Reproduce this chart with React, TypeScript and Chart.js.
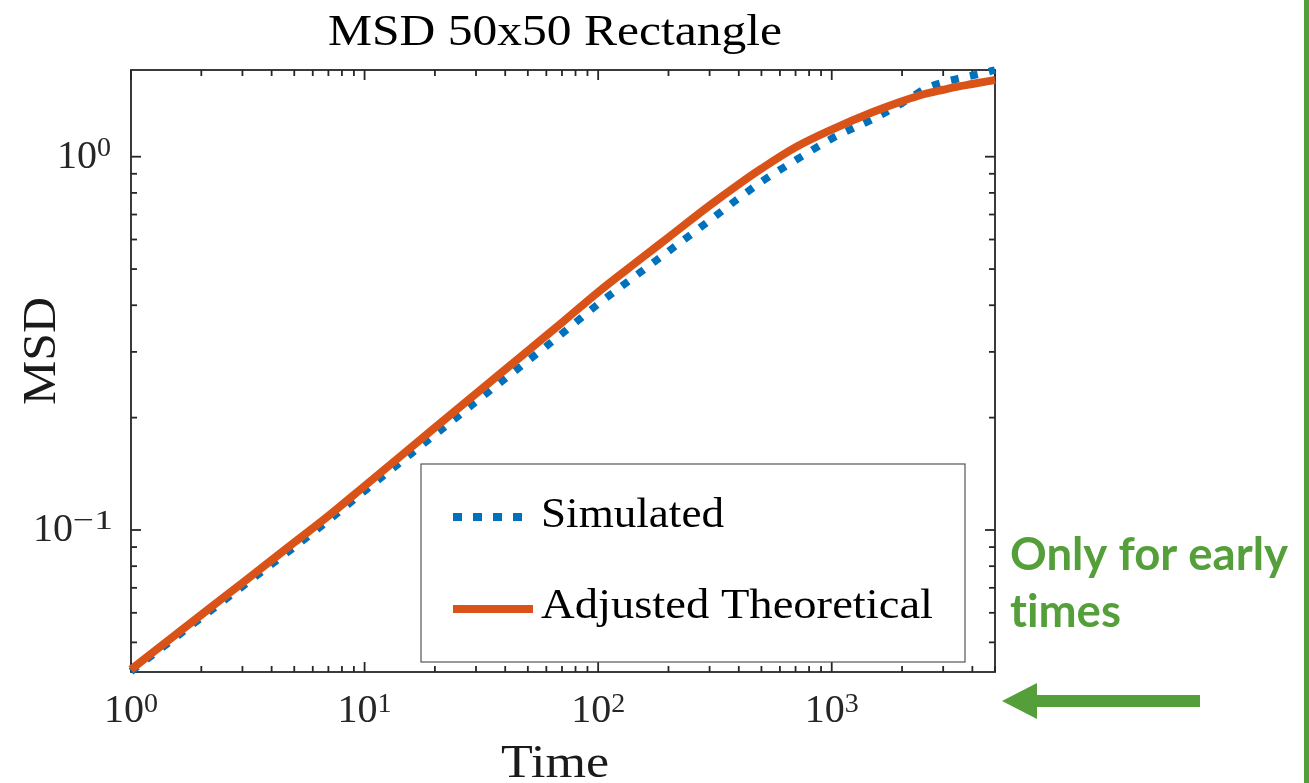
import React, { useEffect, useRef } from "react";
import { Chart, registerables } from "chart.js";

Chart.register(...registerables);

// ---- data ----
const times = [1, 2, 3, 5, 7, 10, 20, 30, 50, 70, 100, 150, 200, 300, 400, 500, 700, 1000, 1500, 2000, 2500, 3000, 3500, 4000, 4500, 5000];
const simulated = [0.0418, 0.0582, 0.0706, 0.09, 0.1061, 0.1272, 0.18, 0.2207, 0.2839, 0.3357, 0.403, 0.488, 0.558, 0.675, 0.774, 0.857, 0.978, 1.118, 1.261, 1.391, 1.518, 1.582, 1.62, 1.65, 1.677, 1.707];
const theoretical = [0.0423, 0.0593, 0.0722, 0.0926, 0.1091, 0.1312, 0.188, 0.2319, 0.302, 0.3595, 0.434, 0.529, 0.608, 0.74, 0.844, 0.929, 1.06, 1.182, 1.317, 1.408, 1.472, 1.511, 1.543, 1.566, 1.587, 1.605];

const seriesNames = ["Simulated", "Adjusted Theoretical"];
const xMajorTicks = [1, 10, 100, 1000];
const xMajorExps = ["0", "1", "2", "3"];
const yMajorTicks = [0.1, 1];
const yMajorExps = ["\u22121", "0"];
const xMin = 1, xMax = 5000, yMin = 0.04165, yMax = 1.707;

const titleText = "MSD 50x50 Rectangle";
const xTitle = "Time";
const yTitle = "MSD";
const noteLines = ["Only for early", "t\u200Cimes"];

const BLUE = "#0072BD";
const ORANGE = "#D95319";
const AXIS = "#262626";
const GREEN = "#559F3A";
const SERIF = '"Liberation Serif", "DejaVu Serif", serif';

function fitText(ctx: CanvasRenderingContext2D, s: string, x: number, y: number, font: string, targetW: number | null, align: string = "left", sxFixed?: number) {
  ctx.save();
  ctx.font = font;
  ctx.textBaseline = "alphabetic";
  ctx.textAlign = "left";
  const m = ctx.measureText(s).width;
  const sx = sxFixed !== undefined ? sxFixed : targetW ? targetW / m : 1;
  const W = m * sx;
  const x0 = align === "center" ? x - W / 2 : align === "right" ? x - W : x;
  ctx.translate(x0, y);
  ctx.scale(sx, 1);
  ctx.fillText(s, 0, 0);
  ctx.restore();
  return sx;
}

function measure(ctx: CanvasRenderingContext2D, s: string, font: string) {
  ctx.save();
  ctx.font = font;
  const w = ctx.measureText(s).width;
  ctx.restore();
  return w;
}

const MAIN_FONT = `40px ${SERIF}`;
const SUP_FONT = `28px ${SERIF}`;

function minorValues(min: number, max: number) {
  const out: number[] = [];
  for (let e = Math.floor(Math.log10(min)); e <= Math.ceil(Math.log10(max)); e++) {
    for (let m = 2; m <= 9; m++) {
      const v = m * Math.pow(10, e);
      if (v >= min * 0.9999 && v <= max * 1.0001) out.push(v);
    }
  }
  return out;
}

const axesPlugin = {
  id: "matlabAxes",
  beforeDatasetsDraw(chart: any) {
    const { ctx, chartArea: a, scales } = chart;
    const xs = scales.x, ys = scales.y;
    ctx.save();
    ctx.strokeStyle = AXIS;
    ctx.lineWidth = 1.8;
    ctx.strokeRect(a.left, a.top, a.right - a.left, a.bottom - a.top);
    const tick = (x1: number, y1: number, x2: number, y2: number) => {
      ctx.beginPath();
      ctx.moveTo(x1, y1);
      ctx.lineTo(x2, y2);
      ctx.stroke();
    };
    const MAJ = 10, MIN = 6;
    xMajorTicks.forEach((v) => {
      const p = xs.getPixelForValue(v);
      tick(p, a.bottom, p, a.bottom - MAJ);
      tick(p, a.top, p, a.top + MAJ);
    });
    minorValues(xMin, xMax).forEach((v) => {
      const p = xs.getPixelForValue(v);
      tick(p, a.bottom, p, a.bottom - MIN);
      tick(p, a.top, p, a.top + MIN);
    });
    yMajorTicks.forEach((v) => {
      const p = ys.getPixelForValue(v);
      tick(a.left, p, a.left + MAJ, p);
      tick(a.right, p, a.right - MAJ, p);
    });
    minorValues(yMin, yMax).forEach((v) => {
      const p = ys.getPixelForValue(v);
      tick(a.left, p, a.left + MIN, p);
      tick(a.right, p, a.right - MIN, p);
    });
    ctx.restore();
  },
  afterDatasetsDraw(chart: any) {
    const { ctx, chartArea: a, scales } = chart;
    const xs = scales.x, ys = scales.y;
    ctx.save();
    ctx.fillStyle = AXIS;
    // x tick labels
    xMajorTicks.forEach((v, i) => {
      const p = xs.getPixelForValue(v);
      const w1 = measure(ctx, "10", MAIN_FONT);
      const w2 = measure(ctx, xMajorExps[i], SUP_FONT);
      const x0 = p - (w1 + w2) / 2;
      const base = a.bottom + 50;
      fitText(ctx, "10", x0, base, MAIN_FONT, null);
      fitText(ctx, xMajorExps[i], x0 + w1, base - 10, SUP_FONT, null);
    });
    // y tick labels
    yMajorTicks.forEach((v, i) => {
      const p = ys.getPixelForValue(v);
      const right = a.left - 18;
      const exp = yMajorExps[i];
      const w1 = measure(ctx, "10", MAIN_FONT);
      const w2 = exp.length > 1 ? 40 : measure(ctx, exp, SUP_FONT) + 2;
      const base = p + 11;
      fitText(ctx, "10", right - w2 - w1, base, MAIN_FONT, null);
      fitText(ctx, exp, right - w2, base - 12, SUP_FONT, exp.length > 1 ? w2 : null);
    });
    // axis titles
    ctx.fillStyle = "#1a1a1a";
    fitText(ctx, xTitle, 555, 777, `46px ${SERIF}`, 108, "center");
    ctx.save();
    ctx.translate(55, 351);
    ctx.rotate(-Math.PI / 2);
    fitText(ctx, yTitle, 0, 0, `46px ${SERIF}`, 108, "center");
    ctx.restore();
    // title
    ctx.fillStyle = "#000";
    fitText(ctx, titleText, 555, 45, `44px ${SERIF}`, 454, "center");

    // legend
    const lx = 421, ly = 464, lw = 544, lh = 198;
    ctx.fillStyle = "#fff";
    ctx.fillRect(lx, ly, lw, lh);
    ctx.strokeStyle = "#555";
    ctx.lineWidth = 1.2;
    ctx.strokeRect(lx, ly, lw, lh);
    ctx.lineCap = "butt";
    ctx.strokeStyle = BLUE;
    ctx.lineWidth = 8;
    ctx.setLineDash([9, 11]);
    ctx.beginPath();
    ctx.moveTo(453, 517);
    ctx.lineTo(522, 517);
    ctx.stroke();
    ctx.setLineDash([]);
    ctx.strokeStyle = ORANGE;
    ctx.beginPath();
    ctx.moveTo(453, 609);
    ctx.lineTo(533, 609);
    ctx.stroke();
    ctx.fillStyle = "#000";
    fitText(ctx, seriesNames[0], 541, 527, `42px ${SERIF}`, 183, "left");
    fitText(ctx, seriesNames[1], 541, 618, `42px ${SERIF}`, 392, "left");

    // annotation (green)
    ctx.fillStyle = GREEN;
    const gFont = `bold 46px Lato, "Open Sans", sans-serif`;
    const sx = fitText(ctx, noteLines[0], 1010, 570, gFont, 278, "left");
    fitText(ctx, noteLines[1], 1010, 627, gFont, null, "left", sx);
    // arrow
    ctx.beginPath();
    ctx.moveTo(1200, 695);
    ctx.lineTo(1037, 695);
    ctx.lineTo(1037, 683);
    ctx.lineTo(1002, 701);
    ctx.lineTo(1037, 719);
    ctx.lineTo(1037, 707);
    ctx.lineTo(1200, 707);
    ctx.closePath();
    ctx.fill();
    // vertical bar at right edge
    ctx.fillRect(1304, 0, 5, 783);
    ctx.restore();
  },
};

export default function App() {
  const ref = useRef<HTMLCanvasElement | null>(null);
  useEffect(() => {
    if (!ref.current) return;
    const chart = new Chart(ref.current, {
      type: "line",
      data: {
        datasets: [
          {
            label: seriesNames[0],
            data: times.map((t, i) => ({ x: t, y: simulated[i] })),
            borderColor: BLUE,
            backgroundColor: BLUE,
            borderWidth: 7.5,
            borderDash: [8, 11.5],
            borderCapStyle: "butt",
            pointRadius: 0,
            cubicInterpolationMode: "monotone",
            fill: false,
            order: 2,
            clip: false,
          } as any,
          {
            label: seriesNames[1],
            data: times.map((t, i) => ({ x: t, y: theoretical[i] })),
            borderColor: ORANGE,
            backgroundColor: ORANGE,
            borderWidth: 8,
            borderCapStyle: "butt",
            pointRadius: 0,
            cubicInterpolationMode: "monotone",
            fill: false,
            order: 1,
            clip: false,
          } as any,
        ],
      },
      options: {
        responsive: false,
        animation: false,
        events: [],
        layout: { padding: { left: 131, top: 70, right: 314, bottom: 111 } },
        scales: {
          x: { type: "logarithmic", min: xMin, max: xMax, display: false },
          y: { type: "logarithmic", min: yMin, max: yMax, display: false },
        },
        plugins: {
          legend: { display: false },
          tooltip: { enabled: false },
          title: { display: false },
        },
      },
      plugins: [axesPlugin],
    });
    return () => chart.destroy();
  }, []);
  return (
    <div style={{ position: "absolute", left: 0, top: 0, width: 1309, height: 783, background: "#fff" }}>
      <canvas ref={ref} width={1309} height={783} style={{ display: "block", width: 1309, height: 783 }} />
    </div>
  );
}
